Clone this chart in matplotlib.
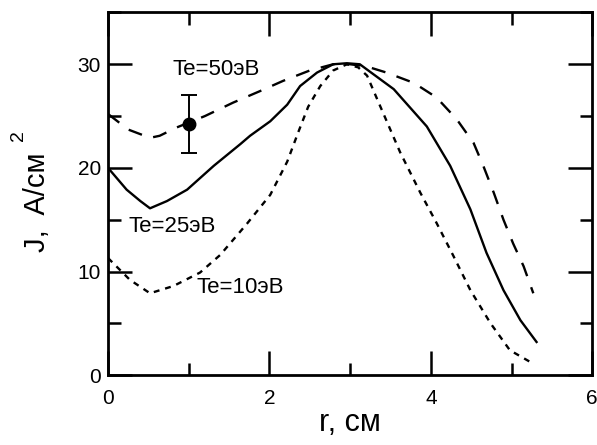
import matplotlib
matplotlib.use("Agg")
import matplotlib.pyplot as plt
from matplotlib.ticker import MultipleLocator

plt.rcParams['font.family'] = ['Liberation Sans', 'DejaVu Sans']

# Te = 50 eV (dashed)
r50 = [0.0, 0.25, 0.52, 0.64, 0.85, 1.2, 1.55, 1.88, 2.17, 2.5, 2.79, 3.0, 3.2, 3.45, 3.79, 4.07, 4.32,
       4.53, 4.65, 4.78, 4.9, 5.02, 5.15, 5.27]
j50 = [25.2, 23.7, 22.9, 23.1, 23.9, 25.0, 26.3, 27.4, 28.4, 29.4, 30.0, 30.0, 29.8, 29.2, 28.2, 26.8, 24.7,
       22.4, 20.2, 17.6, 15.0, 12.7, 10.5, 7.9]

# Te = 25 eV (solid)
r25 = [0.0, 0.23, 0.4, 0.52, 0.73, 0.98, 1.31, 1.64, 1.76, 2.01, 2.22, 2.38, 2.59, 2.79, 2.96, 3.12, 3.54,
       3.95, 4.24, 4.49, 4.69, 4.9, 5.11, 5.31]
j25 = [20.0, 17.9, 16.8, 16.1, 16.8, 17.9, 20.2, 22.3, 23.1, 24.5, 26.1, 27.9, 29.2, 30.0, 30.1, 30.0, 27.6,
       24.0, 20.2, 16.0, 11.8, 8.2, 5.3, 3.2]

# Te = 10 eV (dotted)
r10 = [0.0, 0.27, 0.52, 0.81, 1.14, 1.39, 1.72, 2.01, 2.22, 2.36, 2.48, 2.63, 2.79, 2.96, 3.1, 3.21, 3.37,
       3.62, 3.87, 4.07, 4.28, 4.49, 4.74, 4.98, 5.27]
j10 = [11.3, 9.2, 7.9, 8.6, 9.9, 11.6, 14.6, 17.4, 20.6, 23.5, 25.9, 27.9, 29.4, 30.0, 29.7, 28.9, 26.0,
       21.5, 17.6, 14.7, 11.5, 8.2, 5.0, 2.4, 1.1]

# experimental point
r_exp = [1.0]
j_exp = [24.2]
j_err = [2.8]

labels = ["Te=50эВ", "Te=25эВ", "Te=10эВ"]
label_pos = [(0.8, 29.5), (0.25, 14.3), (1.1, 8.5)]

fig = plt.figure(figsize=(5.97, 4.45), dpi=100)
ax = fig.add_axes([0.181, 0.157, 0.811, 0.815])

ax.plot(r50, j50, color='black', lw=1.7, dashes=(6, 5))
ax.plot(r25, j25, color='black', lw=1.7)
ax.plot(r10, j10, color='black', lw=1.7, dashes=(2.5, 2.5))
ax.errorbar(r_exp, j_exp, yerr=j_err, fmt='o', color='black', ms=9,
            capsize=6, elinewidth=1.4, capthick=1.4)

for t, (x, y) in zip(labels, label_pos):
    ax.text(x, y, t, fontsize=16, va='center', ha='left')

ax.set_xlim(0, 6)
ax.set_ylim(0, 35)
ax.xaxis.set_major_locator(MultipleLocator(2))
ax.xaxis.set_minor_locator(MultipleLocator(1))
ax.yaxis.set_major_locator(MultipleLocator(10))
ax.yaxis.set_minor_locator(MultipleLocator(5))
ax.tick_params(which='both', direction='in', top=True, right=True, width=1.8)
ax.tick_params(which='major', length=17, labelsize=15)
ax.tick_params(which='minor', length=9)
ax.tick_params(axis='x', which='major', pad=10)
ax.tick_params(axis='y', which='major', pad=5)
for s in ax.spines.values():
    s.set_linewidth(2)

ax.set_xlabel("r, см", fontsize=22, labelpad=0)
# y label with a raised "2" as in the original
fig.text(37 / 597, 1 - 202 / 445, "J,  A/см", fontsize=21, rotation=90,
         ha='center', va='center')
fig.text(18 / 597, 1 - 136 / 445, "2", fontsize=14, rotation=90,
         ha='center', va='center')

fig.savefig("out.png", dpi=100)
